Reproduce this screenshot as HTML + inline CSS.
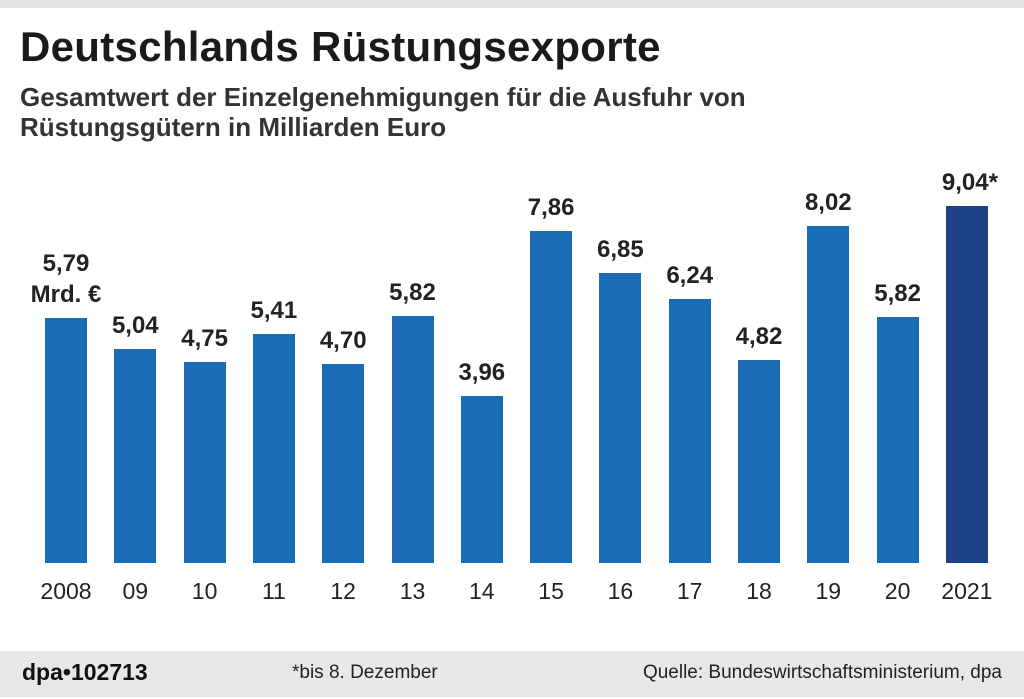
<!DOCTYPE html><html><head><meta charset="utf-8"><style>
body{margin:0;width:1024px;height:699px;background:#fff;position:relative;overflow:hidden;font-family:"Liberation Sans",sans-serif}
.a{position:absolute}
.bar{position:absolute;width:42px;background:#1b6cb6}
.v{position:absolute;width:100px;text-align:center;font-weight:bold;font-size:24px;color:#222}
.x{position:absolute;width:80px;text-align:center;font-size:23px;color:#222;top:578px}
</style></head><body>
<div class="a" style="left:0;top:0;width:1024px;height:8px;background:#e3e3e3"></div>
<div class="a" style="left:20px;top:23px;font-size:42px;font-weight:bold;color:#1a1a1a;letter-spacing:0.3px">Deutschlands Rüstungsexporte</div>
<div class="a" style="left:20px;top:82px;font-size:26px;font-weight:bold;color:#333;line-height:30px">Gesamtwert der Einzelgenehmigungen für die Ausfuhr von<br>Rüstungsgütern in Milliarden Euro</div>
<div id="c"></div>
<div class="a" style="left:0;top:651px;width:1024px;height:46px;background:#e8e8e8"></div>
<div class="a" style="left:22px;top:659px;font-size:23px;font-weight:bold;color:#111">dpa•102713</div>
<div class="a" style="left:292px;top:662px;font-size:19px;color:#222">*bis 8. Dezember</div>
<div class="a" style="right:22px;top:662px;font-size:19px;color:#222">Quelle: Bundeswirtschaftsministerium, dpa</div>
<script>
var d=[["2008","5,79",318],["09","5,04",349],["10","4,75",362],["11","5,41",334],["12","4,70",364],["13","5,82",316],["14","3,96",396],["15","7,86",231],["16","6,85",273],["17","6,24",299],["18","4,82",360],["19","8,02",226],["20","5,82",317],["2021","9,04*",206]];
var h="";d.forEach(function(e,i){var x=45+i*69.3;var c=i==13?"#1d4283":"#1b6cb6";
h+='<div class="bar" style="left:'+x+'px;top:'+e[2]+'px;height:'+(563-e[2])+'px;background:'+c+'"></div>';
var ly=e[2]-37;if(i==0){h+='<div class="v" style="left:'+(x-29)+'px;top:'+(ly-31)+'px">5,79</div>';h+='<div class="v" style="left:'+(x-29)+'px;top:'+ly+'px">Mrd. €</div>';}
else h+='<div class="v" style="left:'+(x-29+(i==13?3:0))+'px;top:'+ly+'px">'+e[1]+'</div>';
h+='<div class="x" style="left:'+(x-19)+'px">'+e[0]+'</div>';});
document.getElementById("c").innerHTML=h;
</script></body></html>
